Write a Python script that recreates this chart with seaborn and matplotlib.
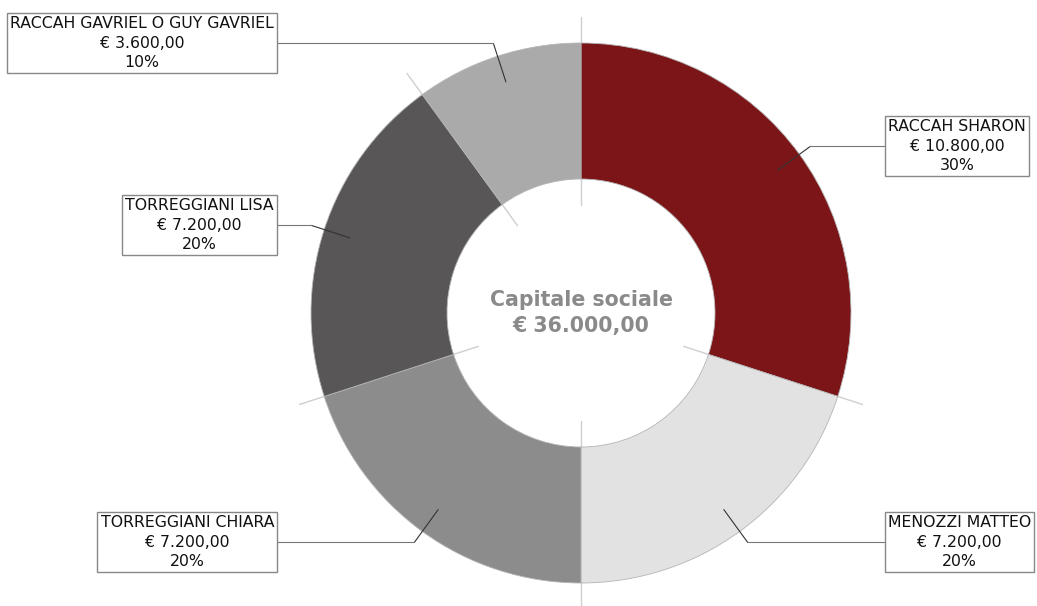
import numpy as np
import matplotlib
matplotlib.use("Agg")
import matplotlib.pyplot as plt
import seaborn as sns

# soci e quote del capitale sociale
soci = ["RACCAH SHARON", "MENOZZI MATTEO", "TORREGGIANI CHIARA",
        "TORREGGIANI LISA", "RACCAH GAVRIEL O GUY GAVRIEL"]
quote = [10800, 7200, 7200, 7200, 3600]
colori = ["#7b1518", "#e2e2e2", "#8c8c8c", "#585657", "#aaaaaa"]


def euro(v):
    s = f"{v:,.2f}".replace(",", "X").replace(".", ",").replace("X", ".")
    return "€ " + s


sns.set_theme(style="white")
plt.rcParams['font.family'] = ['DejaVu Sans']

fig = plt.figure(figsize=(10.37, 6.06), dpi=100)
ax = fig.add_axes([0, 0, 1, 1])

R = 270
W = 136
totale = sum(quote)

wedges, _ = ax.pie(quote, colors=colori, radius=R, startangle=90, counterclock=False,
                   wedgeprops=dict(width=W, edgecolor="#b5b5b5", linewidth=0.6))
for w in wedges:
    w.set_zorder(2)

# center of the donut at pixel (581, 313)
ax.set_xlim(-581, 456)
ax.set_ylim(-293, 313)
ax.set_aspect("equal")
ax.axis("off")

# separator lines at slice boundaries (behind the ring)
cum = np.cumsum([0] + quote)
for c in cum[:-1]:
    a = np.deg2rad(90 - 360 * c / totale)
    ax.plot([108 * np.cos(a), 296 * np.cos(a)], [108 * np.sin(a), 296 * np.sin(a)],
            color="#cfcfcf", lw=1, zorder=1)

# labels with leader lines
box_x = 304
for i, (nome, q) in enumerate(zip(soci, quote)):
    mid = np.deg2rad(90 - 360 * (cum[i] + q / 2) / totale)
    p0 = (0.9 * R * np.cos(mid), 0.9 * R * np.sin(mid))
    p1 = (1.05 * R * np.cos(mid), 1.05 * R * np.sin(mid))
    side = 1 if np.cos(mid) >= 0 else -1
    ax.plot([p0[0], p1[0]], [p0[1], p1[1]], color="#333333", lw=0.8, zorder=3)
    ax.plot([p1[0], side * box_x], [p1[1], p1[1]], color="#777777", lw=0.8, zorder=3)
    pct = f"{round(100 * q / totale)}%"
    ax.text(side * (box_x + 3), p1[1], f"{nome}\n{euro(q)}\n{pct}",
            ha="left" if side > 0 else "right", va="center", multialignment="center",
            fontsize=11.3, color="#111111", linespacing=1.37, zorder=4,
            bbox=dict(boxstyle="square,pad=0.2", fc="white", ec="#888888", lw=1))

ax.text(0, 0, f"Capitale sociale\n{euro(totale)}", ha="center", va="center",
        fontsize=14.8, fontweight="bold", color="#8a8a8a", linespacing=1.35, zorder=4)

fig.savefig("out.png", dpi=100, facecolor="white")
